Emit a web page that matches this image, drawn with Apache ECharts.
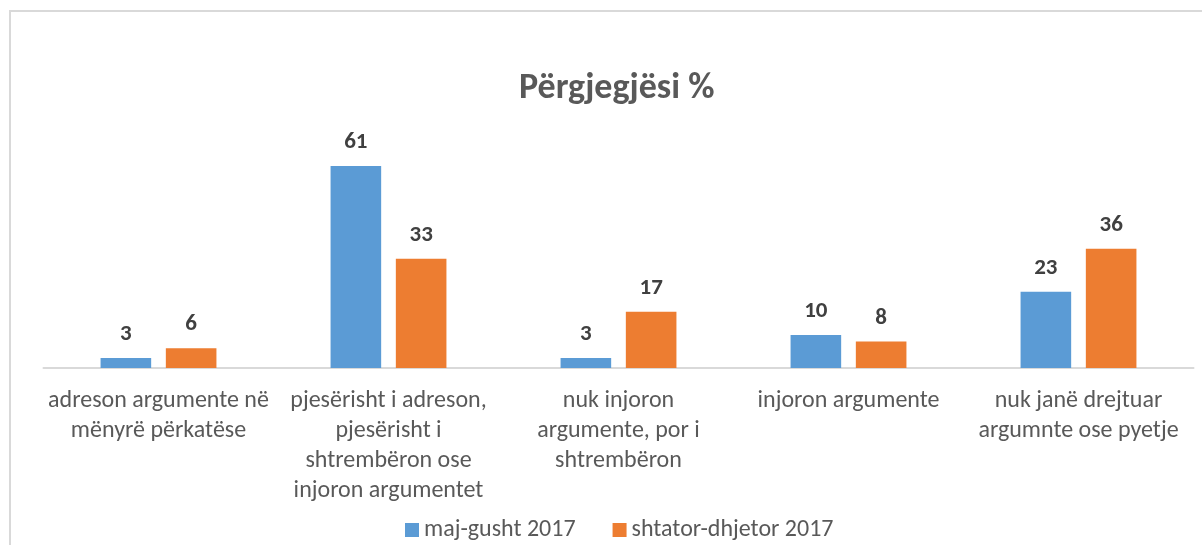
<!DOCTYPE html>
<html><head><meta charset="utf-8">
<script src="https://cdn.jsdelivr.net/npm/echarts@6/dist/echarts.min.js"></script>
<style>html,body{margin:0;padding:0;background:#fff}#c{width:1202px;height:545px}</style>
</head><body><div id="c"></div>
<script>
const categories = [
  "adreson argumente në\nmënyrë përkatëse",
  "pjesërisht i adreson,\npjesërisht i\nshtrembëron ose\ninjoron argumentet",
  "nuk injoron\nargumente, por i\nshtrembëron",
  "injoron argumente",
  "nuk janë drejtuar\nargumnte ose pyetje"
];
const seriesNames = ["maj-gusht 2017", "shtator-dhjetor 2017"];
const majGusht = [3, 61, 3, 10, 23];
const shtatorDhjetor = [6, 33, 17, 8, 36];
const FONT = "Carlito, Calibri, 'Open Sans', sans-serif";

const chart = echarts.init(document.getElementById('c'), null, {renderer: 'canvas'});
const labelStyle = {show: true, position: 'top', distance: 12, fontFamily: FONT, fontWeight: 'bold', fontSize: 23, color: '#404040'};
chart.setOption({
  animation: false,
  title: {text: 'Përgjegjësi %', left: 514, top: 66, textStyle: {fontFamily: FONT, fontWeight: 'bold', fontSize: 36, color: '#595959'}},
  graphic: [{type: 'rect', shape: {x: 10, y: 11, width: 1250, height: 600}, style: {fill: 'none', stroke: '#d9d9d9', lineWidth: 2}, silent: true, z: -1}],
  legend: {bottom: -2, left: 400, itemWidth: 14, itemHeight: 14, itemGap: 37, icon: 'rect',
    textStyle: {fontFamily: FONT, fontSize: 24, color: '#595959'}},
  grid: {left: 43.5, right: 8.5, top: 136.3, bottom: 177, containLabel: false},
  xAxis: {type: 'category', data: categories,
    axisLine: {lineStyle: {color: '#d9d9d9', width: 2}}, axisTick: {show: false},
    axisLabel: {interval: 0, margin: 18, fontFamily: FONT, fontSize: 24, color: '#595959', lineHeight: 30, align: 'center'}},
  yAxis: {type: 'value', min: 0, max: 70, show: false, splitLine: {show: false}},
  series: [
    {name: seriesNames[0], type: 'bar', data: majGusht, barWidth: '22%', barGap: '29%', itemStyle: {color: '#5B9BD5'}, label: labelStyle},
    {name: seriesNames[1], type: 'bar', data: shtatorDhjetor, barWidth: '22%', barGap: '29%', itemStyle: {color: '#ED7D31'}, label: labelStyle}
  ]
});
</script></body></html>
